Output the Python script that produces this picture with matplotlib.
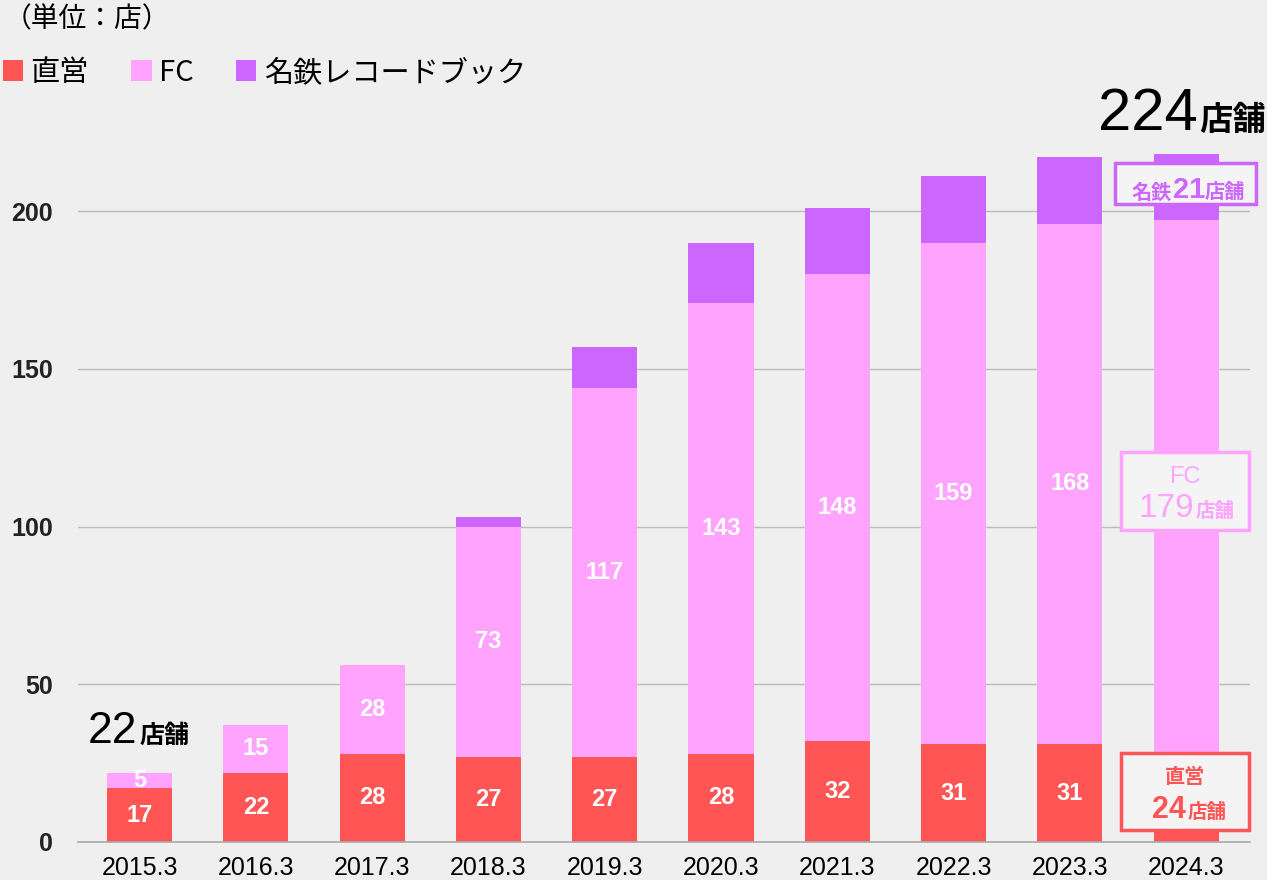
import matplotlib
matplotlib.use("Agg")
import matplotlib.pyplot as plt
from matplotlib.patches import Rectangle

# データ（棒の高さは図から読んだ値）
years = ["2015.3", "2016.3", "2017.3", "2018.3", "2019.3",
         "2020.3", "2021.3", "2022.3", "2023.3", "2024.3"]
chokuei = [17, 22, 28, 27, 27, 28, 32, 31, 31, 24]
fc = [5, 15, 28, 73, 117, 143, 148, 159, 165, 173]
meitetsu = [0, 0, 0, 3, 13, 19, 21, 21, 21, 21]

# 棒の中の数字（図に書いてある値）
chokuei_labels = ["17", "22", "28", "27", "27", "28", "32", "31", "31", ""]
fc_labels = ["5", "15", "28", "73", "117", "143", "148", "159", "168", ""]

RED = "#ff5555"
PINK = "#ffa3ff"
PURPLE = "#cc66ff"
BG = "#efefef"
BOX_BG = "#f4f4f4"

NUM = "Liberation Sans"
JP = ["Noto Sans CJK JP", "DejaVu Sans"]

fig = plt.figure(figsize=(12.67, 8.8), dpi=100, facecolor=BG)
ax = fig.add_axes([0.0616, 0.0432, 0.925, 0.8432])
ax.set_facecolor(BG)

x = list(range(len(years)))
w = 0.56
b1 = ax.bar(x, chokuei, w, color=RED, label="直営", zorder=2)
b2 = ax.bar(x, fc, w, bottom=chokuei, color=PINK, label="FC", zorder=2)
bottom3 = [a + b for a, b in zip(chokuei, fc)]
b3 = ax.bar(x, meitetsu, w, bottom=bottom3, color=PURPLE, label="名鉄レコードブック", zorder=2)

for i in x:
    if chokuei_labels[i]:
        ax.text(i, chokuei[i] / 2, chokuei_labels[i], ha="center", va="center",
                color="white", fontsize=17, fontweight="bold", family=NUM, zorder=3)
    if fc_labels[i]:
        ax.text(i, chokuei[i] + fc[i] / 2, fc_labels[i], ha="center", va="center",
                color="white", fontsize=17, fontweight="bold", family=NUM, zorder=3)

ax.set_xlim(-0.53, 9.55)
ax.set_ylim(0, 235.2)
ax.set_xticks(x)
ax.set_xticklabels(years, fontsize=18, family=NUM, color="black")
ax.set_yticks([0, 50, 100, 150, 200])
ax.set_yticklabels(["0", "50", "100", "150", "200"], fontsize=18, family=NUM,
                   fontweight="bold", color="#222222")
ax.tick_params(axis="x", length=0, pad=10)
ax.tick_params(axis="y", length=0, pad=18)
ax.grid(axis="y", color="#bbbbbb", linewidth=1)
ax.set_axisbelow(True)
for s in ["left", "right", "top"]:
    ax.spines[s].set_visible(False)
ax.spines["bottom"].set_color("#aaaaaa")
ax.spines["bottom"].set_linewidth(1.2)

# 合計
ax.text(-0.02, 31.4, "22", ha="right", va="baseline", fontsize=32, family=NUM, color="black")
ax.text(0.0, 31.4, "店舗", ha="left", va="baseline", fontsize=18, family=JP,
        fontweight="bold", color="black")
ax.text(9.1, 225.7, "224", ha="right", va="baseline", fontsize=43, family=NUM, color="black",
        clip_on=False)
ax.text(9.11, 225.7, "店舗", ha="left", va="baseline", fontsize=24, family=JP,
        fontweight="bold", color="black", clip_on=False)

# 2024.3 の枠
def box(x0, x1, y0, y1, col):
    ax.add_patch(Rectangle((x0, y0), x1 - x0, y1 - y0, facecolor=BOX_BG,
                           edgecolor=col, linewidth=2.5, zorder=4, clip_on=False))

box(9 - 0.61, 9 + 0.60, 202.2, 215.2, PURPLE)
ax.text(9 - 0.12, 204.0, "名鉄", ha="right", va="baseline", fontsize=14.5, family=JP,
        fontweight="bold", color=PURPLE, zorder=5)
ax.text(9 - 0.11, 204.0, "21", ha="left", va="baseline", fontsize=21, family=NUM,
        fontweight="bold", color=PURPLE, zorder=5)
ax.text(9 + 0.16, 204.0, "店舗", ha="left", va="baseline", fontsize=14.5, family=JP,
        fontweight="bold", color=PURPLE, zorder=5)

box(9 - 0.56, 9 + 0.54, 98.9, 123.6, PINK)
ax.text(9 - 0.01, 115.7, "FC", ha="center", va="center", fontsize=17, family=NUM,
        color=PINK, zorder=5)
ax.text(9 + 0.07, 103.0, "179", ha="right", va="baseline", fontsize=24, family=NUM,
        color=PINK, zorder=5)
ax.text(9 + 0.08, 103.0, "店舗", ha="left", va="baseline", fontsize=14, family=JP,
        fontweight="bold", color=PINK, zorder=5)

box(9 - 0.56, 9 + 0.54, 3.8, 28.2, RED)
ax.text(9 - 0.01, 20.9, "直営", ha="center", va="center", fontsize=14.5, family=JP,
        fontweight="bold", color=RED, zorder=5)
ax.text(9 - 0.0, 7.6, "24", ha="right", va="baseline", fontsize=22, family=NUM,
        fontweight="bold", color=RED, zorder=5)
ax.text(9 + 0.01, 7.6, "店舗", ha="left", va="baseline", fontsize=14, family=JP,
        fontweight="bold", color=RED, zorder=5)

# 単位と凡例
fig.text(0.003, 1 - 19 / 880, "（単位：店）", ha="left", va="center", fontsize=20,
         family=JP, color="black")
fig.legend(handles=[b1, b2, b3], loc="upper left", bbox_to_anchor=(0.0, 1 - 55 / 880),
           ncol=3, frameon=False, prop={"family": JP, "size": 21},
           handlelength=0.7, handleheight=0.7, handletextpad=0.25,
           columnspacing=1.45, borderpad=0.1, borderaxespad=0.0)

fig.savefig("out.png", dpi=100, facecolor=BG)
